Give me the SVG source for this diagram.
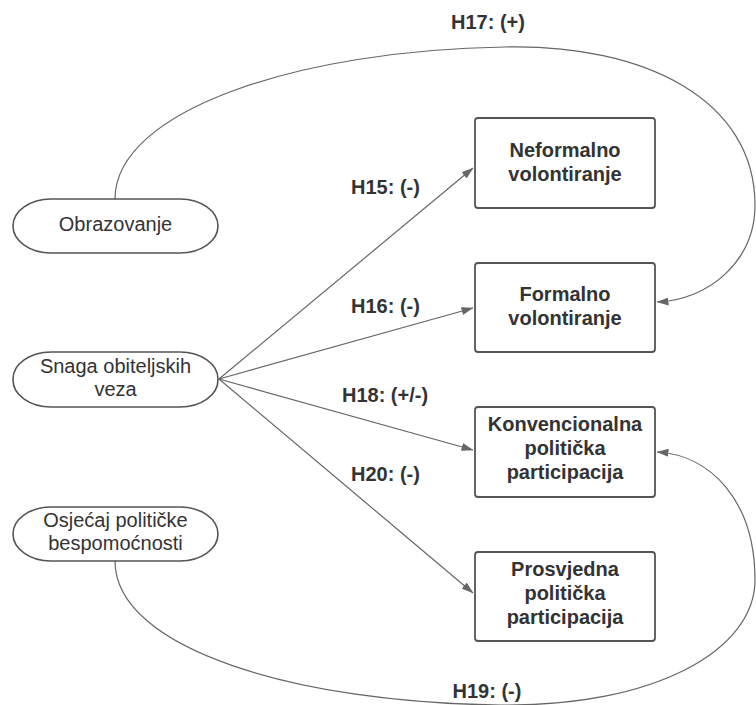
<svg xmlns="http://www.w3.org/2000/svg" width="756" height="705" viewBox="0 0 756 705">
  <style>
    .bg { fill: #ffffff; }
    .term { fill: #ffffff; stroke: #555555; stroke-width: 1.6; }
    .box { fill: #ffffff; stroke: #555555; stroke-width: 1.8; }
    .t { font-family: "Liberation Sans", Arial, sans-serif; font-size: 20px; fill: #333333; text-anchor: middle; }
    .b { font-weight: bold; }
    .edge { fill: none; stroke: #666666; stroke-width: 1.2; marker-end: url(#arr); }
  </style>
  <defs>
    <marker id="arr" viewBox="0 0 12 8" refX="11.5" refY="4" markerWidth="12" markerHeight="8" markerUnits="userSpaceOnUse" orient="auto">
      <path d="M0,0 L12,4 L0,8 Z" fill="#666666"/>
    </marker>
  </defs>
  <rect class="bg" x="0" y="0" width="756" height="705"/>

  <g id="connectors">
    <path class="edge" d="M219,379 L473,168"/>
    <path class="edge" d="M219,379 L473,308"/>
    <path class="edge" d="M219,379 L473,450"/>
    <path class="edge" d="M219,379 L473,593"/>
    <path class="edge" d="M115,199 C115,110 300,50 505,47 C645,44 755,100 755,205 C755,260 710,300 657,302"/>
    <path class="edge" d="M115,561 C115,650 300,703 500,705 C655,707 755,650 755,580 C755,500 710,455 657,452"/>
    <text class="t b" x="488" y="29">H17: (+)</text>
    <text class="t b" x="385.5" y="194">H15: (-)</text>
    <text class="t b" x="385.5" y="313">H16: (-)</text>
    <text class="t b" x="385" y="402">H18: (+/-)</text>
    <text class="t b" x="385.5" y="481">H20: (-)</text>
    <text class="t b" x="487" y="698">H19: (-)</text>
  </g>

  <g id="obrazovanje">
    <rect class="term" x="13" y="199" width="205" height="54" rx="38" ry="27"/>
    <text class="t" x="115.5" y="231">Obrazovanje</text>
  </g>
  <g id="snaga">
    <rect class="term" x="13" y="352" width="205" height="55" rx="38" ry="27"/>
    <text class="t" x="115.5" y="373">Snaga obiteljskih</text>
    <text class="t" x="115.5" y="396">veza</text>
  </g>
  <g id="osjecaj">
    <rect class="term" x="13" y="507" width="205" height="54" rx="38" ry="27"/>
    <text class="t" x="115.5" y="527">Osjećaj političke</text>
    <text class="t" x="115.5" y="550">bespomoćnosti</text>
  </g>

  <g id="neformalno">
    <rect class="box" x="475" y="118" width="180" height="90" rx="3"/>
    <text class="t b" x="565" y="157">Neformalno</text>
    <text class="t b" x="565" y="181">volontiranje</text>
  </g>
  <g id="formalno">
    <rect class="box" x="475" y="263" width="180" height="89" rx="3"/>
    <text class="t b" x="565" y="301">Formalno</text>
    <text class="t b" x="565" y="325">volontiranje</text>
  </g>
  <g id="konvencionalna">
    <rect class="box" x="475" y="407" width="180" height="90" rx="3"/>
    <text class="t b" x="565" y="431">Konvencionalna</text>
    <text class="t b" x="565" y="455">politička</text>
    <text class="t b" x="565" y="479">participacija</text>
  </g>
  <g id="prosvjedna">
    <rect class="box" x="475" y="552" width="180" height="89" rx="3"/>
    <text class="t b" x="565" y="576">Prosvjedna</text>
    <text class="t b" x="565" y="600">politička</text>
    <text class="t b" x="565" y="624">participacija</text>
  </g>
</svg>
